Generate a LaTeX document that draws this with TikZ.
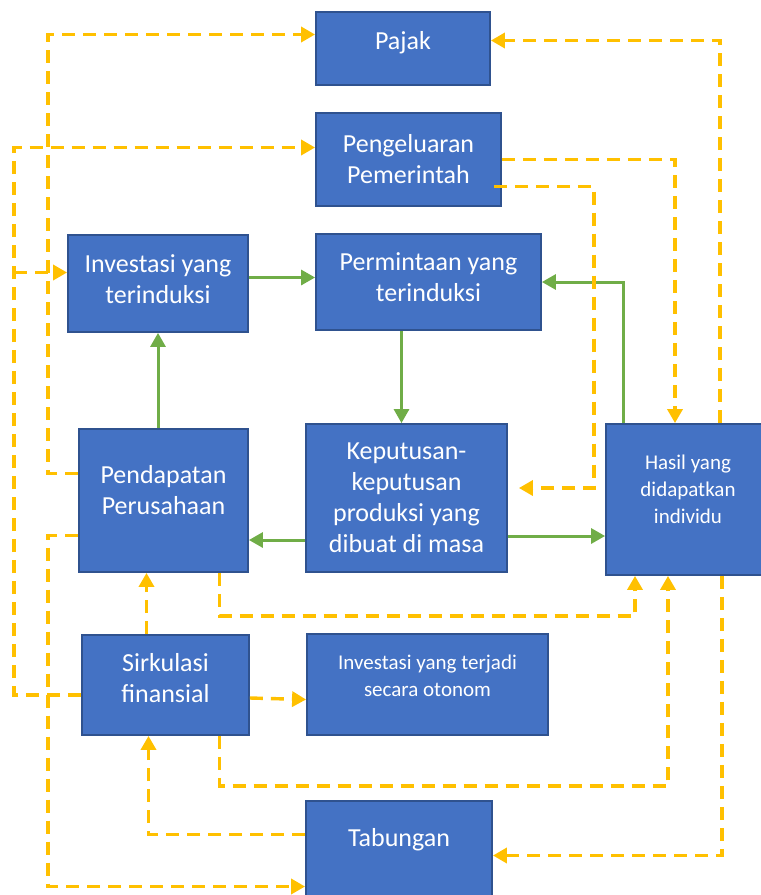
\documentclass[tikz,border=0pt]{standalone}
\usepackage{fontspec}
\setmainfont{Carlito}
\usetikzlibrary{arrows.meta}
\definecolor{boxblue}{HTML}{4472C4}
\definecolor{boxedge}{HTML}{2F528F}
\definecolor{flowgreen}{HTML}{70AD47}
\definecolor{moneyyellow}{HTML}{FFC000}

\begin{document}
\begin{tikzpicture}[
    x=1pt, y=-1pt,
    box/.style={rectangle, draw=boxedge, fill=boxblue, line width=1.8pt, inner sep=0pt},
    txt/.style={text=white, align=center, inner sep=0pt, font=\fontsize{26}{31}\selectfont},
    smalltxt/.style={txt, font=\fontsize{21}{27}\selectfont},
    flow/.style={draw=flowgreen, line width=3pt, -{Triangle[length=14pt, width=15pt]}},
    money/.style={draw=moneyyellow, line width=3.4pt, dash pattern=on 13pt off 8pt, -{Triangle[length=14pt, width=15pt]}}
]
\useasboundingbox (0,0) rectangle (761,895);

% boxes
\node[box, minimum width=174pt, minimum height=73pt, label={[txt, yshift=6pt]center:Pajak}] (pajak) at (403,48.5) {};
\node[box, minimum width=185pt, minimum height=93pt, label={[txt]center:Pengeluaran\\Pemerintah}] (peng) at (408.5,159.5) {};
\node[box, minimum width=180pt, minimum height=97pt, label={[txt, yshift=4pt]center:Investasi yang\\terinduksi}] (indinv) at (158,283.5) {};
\node[box, minimum width=225pt, minimum height=96pt, label={[txt, yshift=5pt]center:Permintaan yang\\terinduksi}] (demand) at (428.5,282) {};
\node[box, minimum width=169pt, minimum height=143pt, label={[txt, yshift=10pt]center:Pendapatan\\Perusahaan}] (income) at (163.5,500.5) {};
\node[box, minimum width=201pt, minimum height=148pt, label={[txt]center:Keputusan-\\keputusan\\produksi yang\\dibuat di masa}] (prod) at (406.5,498) {};
\node[box, minimum width=164pt, minimum height=151pt, label={[smalltxt, yshift=10pt]center:Hasil yang\\didapatkan\\individu}] (hasil) at (688,499.5) {};
\node[box, minimum width=167pt, minimum height=100pt, label={[txt, yshift=7pt]center:Sirkulasi\\finansial}] (sirk) at (165.5,685) {};
\node[box, minimum width=241pt, minimum height=101pt, label={[smalltxt, yshift=9pt]center:Investasi yang terjadi\\secara otonom}] (auto) at (427.5,684.5) {};
\node[box, minimum width=186pt, minimum height=109pt, label={[txt, yshift=16pt]center:Tabungan}] (tab) at (399,855.5) {};

% green flows
\draw[flow] ([yshift=6pt]indinv.east) -- ([yshift=6pt]indinv.east -| demand.west);
\draw[flow] ([xshift=-5pt]prod.north |- demand.south) -- ([xshift=-5pt]prod.north);
\draw[flow] ([yshift=-42pt]prod.west) -- ([yshift=-42pt]prod.west -| income.east);
\draw[flow] ([yshift=-38pt]prod.east) -- ([yshift=-38pt]prod.east -| hasil.west);
\draw[flow] ([xshift=18pt]hasil.north west) |- (demand.east);
\draw[flow] (income.north -| indinv.south) -- (indinv.south);

% yellow money flows
\draw[money] ([yshift=27pt]income.west) -- ++(-30,0) |- ([yshift=14pt]pajak.west);
\draw[money] ([yshift=-10pt]sirk.west) -- ++(-67,0) |- ([yshift=12pt]peng.west);
\draw[money] ([yshift=11pt]indinv.west) ++(-53,0) -- ([yshift=11pt]indinv.west);
\draw[money] ([yshift=-35pt]income.west) -- ++(-30,0) |- ([yshift=-31pt]tab.west);
\draw[money] ([xshift=56pt]income.south) -- ++(0,43) -| ([xshift=-53pt]hasil.south);
\draw[money] ([xshift=-19pt]sirk.north) -- ([xshift=-19pt]sirk.north |- income.south);
\draw[money] ([yshift=-13pt]sirk.east) -- ([yshift=-15pt]auto.west);
\draw[money] ([xshift=54pt]sirk.south) -- ++(0,50) -| ([xshift=-20pt]hasil.south);
\draw[money] ([yshift=21pt]tab.west) -| ([xshift=-17pt]sirk.south);
\draw[money] ([xshift=34pt]hasil.south) |- (tab.east);
\draw[money] ([xshift=32pt]hasil.north) |- ([yshift=8pt]pajak.east);
\draw[money] (peng.east) -| ([xshift=-13pt]hasil.north);
\draw[money, shorten >=11pt] ([xshift=-8pt, yshift=-27pt]peng.east) -- ++(100,0) |- ([yshift=10pt]prod.east);
\end{tikzpicture}
\end{document}
